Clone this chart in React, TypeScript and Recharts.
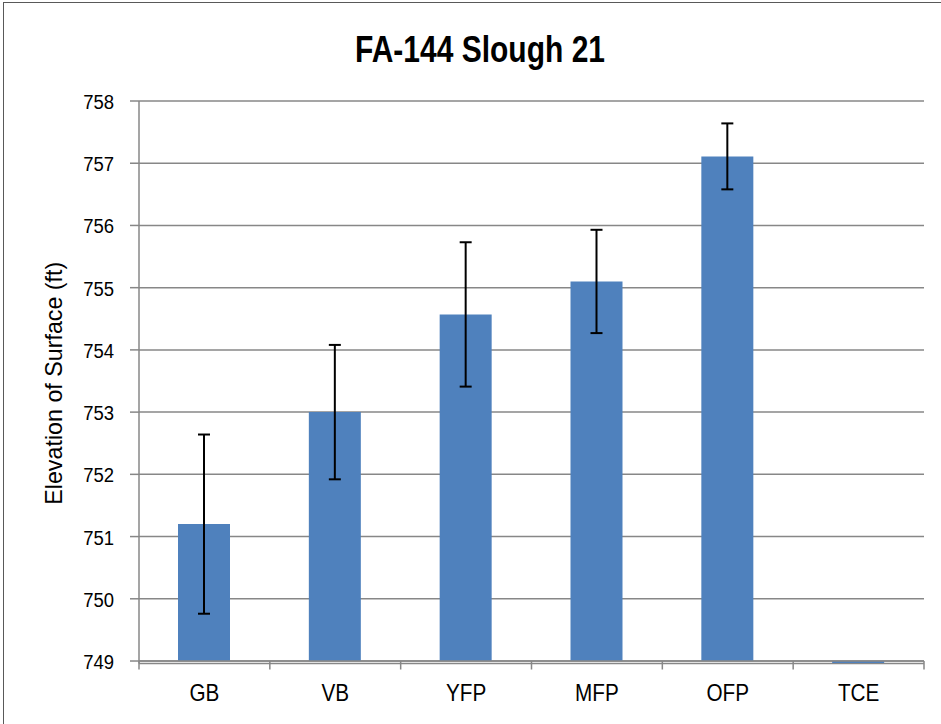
import React from "react";
import { BarChart, Bar, XAxis, YAxis, CartesianGrid, ErrorBar, ReferenceLine } from "recharts";

const categories = ["GB", "VB", "YFP", "MFP", "OFP", "TCE"];
const baseElevation = 749;
const elevation = [751.2, 753.0, 754.57, 755.1, 757.11, 748.97];
const stdError = [1.44, 1.08, 1.16, 0.83, 0.53, 0];
const yTicks = [749, 750, 751, 752, 753, 754, 755, 756, 757, 758];

const data = categories.map((c, i) => ({
  name: c,
  range: elevation[i] >= baseElevation ? [baseElevation, elevation[i]] : [elevation[i], baseElevation],
  err: stdError[i],
}));

const FONT = "'Liberation Sans', Arial, sans-serif";
const GRID = "#878787";

const XTick = (props: any) => {
  const { x, y, payload, index } = props;
  const half = payload.offset ?? 65.4;
  return (
    <g>
      <line x1={x - half} y1={y - 2.5} x2={x - half} y2={y + 6} stroke={GRID} strokeWidth={1.5} />
      {index === categories.length - 1 && (
        <line x1={x + half} y1={y - 2.5} x2={x + half} y2={y + 6} stroke={GRID} strokeWidth={1.5} />
      )}
      <text
        transform={`translate(${x},${y + 37}) scale(0.9,1)`}
        textAnchor="middle"
        fontSize={23}
        fill="#000"
        fontFamily={FONT}
      >
        {payload.value}
      </text>
    </g>
  );
};

const YTick = (props: any) => {
  const { x, y, payload } = props;
  return (
    <g>
      <line x1={x - 9} y1={y} x2={x} y2={y} stroke={GRID} strokeWidth={1.5} />
      <text
        transform={`translate(${x - 25},${y + 8}) scale(0.88,1)`}
        textAnchor="end"
        fontSize={21}
        fill="#000"
        fontFamily={FONT}
      >
        {payload.value}
      </text>
    </g>
  );
};

const YLabel = (props: any) => {
  const vb = props.viewBox || { x: 0, y: 0, height: 0 };
  const cx = vb.x + 62;
  const cy = vb.y + vb.height / 2 + 1;
  return (
    <text
      transform={`translate(${cx},${cy}) rotate(-90)`}
      textAnchor="middle"
      fontSize={24}
      fill="#000"
      fontFamily={FONT}
      textLength={243}
      lengthAdjust="spacingAndGlyphs"
    >
      Elevation of Surface (ft)
    </text>
  );
};

export default function App() {
  return (
    <div style={{ position: "absolute", left: 0, top: 0, width: 941, height: 724, background: "#fff", overflow: "hidden" }}>
      <div style={{ position: "absolute", left: 3, top: 2, width: 960, height: 740, border: "1.5px solid #595959", boxSizing: "border-box" }} />
      <svg style={{ position: "absolute", left: 0, top: 0 }} width={941} height={90}>
        <text
          x={480}
          y={62}
          textAnchor="middle"
          fontSize={36}
          fontWeight="bold"
          fill="#000"
          fontFamily={FONT}
          textLength={250}
          lengthAdjust="spacingAndGlyphs"
        >
          FA-144 Slough 21
        </text>
      </svg>
      <div style={{ position: "absolute", left: 0, top: 0 }}>
        <BarChart width={941} height={724} data={data} margin={{ top: 101, right: 17, bottom: 0, left: 0 }} barSize={52}>
          <CartesianGrid vertical={false} stroke={GRID} strokeWidth={1.5} />
          <XAxis
            dataKey="name"
            tick={<XTick />}
            tickLine={false}
            tickSize={0}
            tickMargin={0}
            axisLine={false}
            interval={0}
            height={60.5}
          />
          <YAxis
            domain={[748.96, 758]}
            ticks={yTicks}
            allowDataOverflow
            width={139}
            tickSize={0}
            tickMargin={0}
            tickLine={false}
            axisLine={{ stroke: GRID, strokeWidth: 1.5 }}
            tick={<YTick />}
            label={<YLabel />}
          />
          <Bar dataKey="range" fill="#4F81BD" isAnimationActive={false}>
            <ErrorBar dataKey="err" width={6} stroke="#000" strokeWidth={2} direction="y" />
          </Bar>
          <ReferenceLine y={749} stroke={GRID} strokeWidth={1.5} />
        </BarChart>
      </div>
    </div>
  );
}
